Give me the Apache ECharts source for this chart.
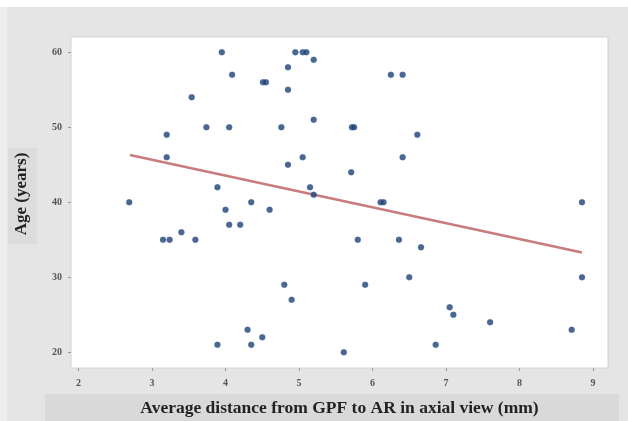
<!DOCTYPE html>
<html>
<head>
<meta charset="utf-8">
<script src="https://cdn.jsdelivr.net/npm/echarts@6/dist/echarts.min.js"></script>
<style>html,body{margin:0;padding:0;background:#fff;}#c{width:628px;height:421px;}</style>
</head>
<body>
<div id="c"></div>
<script>
// Data
const distances = [2.69,3.20,3.20,3.15,3.24,3.40,3.54,3.59,3.74,3.89,3.89,3.95,4.00,4.05,4.05,4.09,4.20,4.30,4.35,4.35,4.50,4.51,4.55,4.60,4.76,4.80,4.85,4.85,4.85,4.90,4.95,5.05,5.10,5.05,5.15,5.20,5.20,5.20,5.61,5.71,5.72,5.75,5.80,5.90,6.11,6.15,6.25,6.36,6.41,6.41,6.50,6.61,6.66,6.86,7.05,7.10,7.60,8.71,8.85,8.85];
const ages      = [40,49,46,35,35,36,54,35,50,42,21,60,39,50,37,57,37,23,40,21,22,56,56,39,50,29,58,55,45,27,60,60,60,46,42,59,51,41,20,44,50,50,35,29,40,40,57,35,57,46,30,49,34,21,26,25,24,23,40,30];
const fitX = [2.70, 8.85];
const fitY = [46.3, 33.3];
const xTicks = [2,3,4,5,6,7,8,9];
const yTicks = [20,30,40,50,60];
const xTitle = 'Average distance from GPF to AR in axial view (mm)';
const yTitle = 'Age (years)';

const points = distances.map((d,i)=>[d, ages[i]]);
const fitLine = fitX.map((x,i)=>[x, fitY[i]]);

const chart = echarts.init(document.getElementById('c'), null, {renderer:'canvas'});
const labelStyle = {color:'#555', fontFamily:'Liberation Serif', fontWeight:'bold', fontSize:10};
chart.setOption({
  backgroundColor:'#e5e5e5',
  animation:false,
  graphic:[
    {type:'rect', left:0, top:0, shape:{width:628,height:7}, style:{fill:'#ffffff'}, silent:true, z:-10},
    {type:'rect', left:0, top:7, shape:{width:7,height:414}, style:{fill:'#eeeeee'}, silent:true, z:-10},
    {type:'rect', left:45, top:394, shape:{width:574,height:27}, style:{fill:'#d9d9d9'}, silent:true, z:-10},
    {type:'rect', left:8, top:148, shape:{width:29,height:96}, style:{fill:'#dcdcdc'}, silent:true, z:-10},
    {type:'text', x:22, y:194, rotation:Math.PI/2,
      style:{text:yTitle, fill:'#222', font:'bold 17px "Liberation Serif"', textAlign:'center', textVerticalAlign:'middle'}, z:10}
  ],
  grid:{left:71, top:37, width:537, height:331, outerBoundsMode:'none', containLabel:false,
        show:true, backgroundColor:'#ffffff', borderColor:'#d2d2d2', borderWidth:1},
  xAxis:{
    type:'value', min:1.898, max:9.204,
    name:xTitle, nameLocation:'middle', nameGap:31,
    nameTextStyle:{color:'#222', fontFamily:'Liberation Serif', fontWeight:'bold', fontSize:17.5},
    axisLine:{show:false},
    axisTick:{show:true, length:3, lineStyle:{color:'#999'}, customValues:xTicks},
    axisLabel:Object.assign({margin:10, customValues:xTicks}, labelStyle),
    splitLine:{show:false}
  },
  yAxis:{
    type:'value', min:17.91, max:62.04,
    axisLine:{show:false},
    axisTick:{show:true, length:3, lineStyle:{color:'#999'}, customValues:yTicks},
    axisLabel:Object.assign({margin:9, customValues:yTicks}, labelStyle),
    splitLine:{show:false}
  },
  series:[
    {type:'line', data:fitLine, symbol:'none', lineStyle:{color:'#c87c7e', width:2.5}, z:2},
    {type:'scatter', data:points, symbol:'circle', symbolSize:6, itemStyle:{color:'#1f4072', borderColor:'rgba(70,120,180,0.35)', borderWidth:1}, z:3}
  ]
});
</script>
</body>
</html>
